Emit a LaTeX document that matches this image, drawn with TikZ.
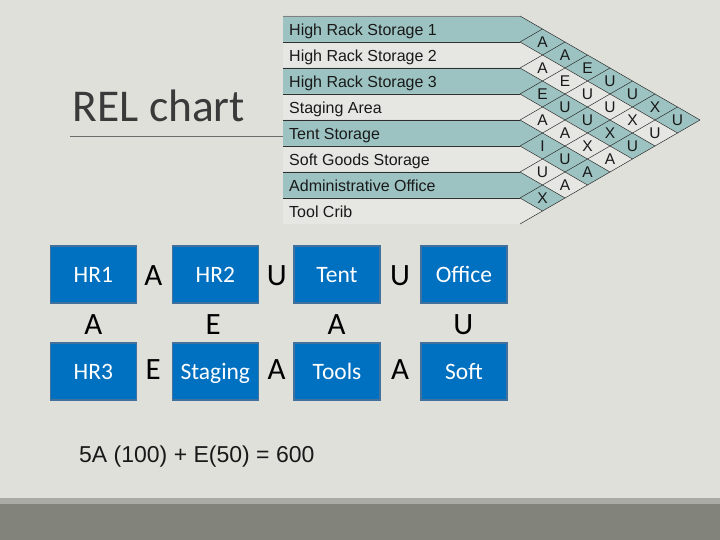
\documentclass[tikz,border=0pt]{standalone}
\usepackage{fontspec}
\setmainfont{Carlito}
\newfontfamily\arialf{Liberation Sans}
\definecolor{slidebg}{HTML}{E0E0DB}
\definecolor{bandlight}{HTML}{AAABA5}
\definecolor{banddark}{HTML}{82837B}
\definecolor{chartteal}{HTML}{9CC3C1}
\definecolor{chartlight}{HTML}{E6E6E3}
\definecolor{gridcol}{HTML}{2E2E2E}
\definecolor{boxblue}{HTML}{0070C0}
\definecolor{boxedge}{HTML}{41719C}
\definecolor{titlegray}{HTML}{3A3A3A}
\begin{document}
\begin{tikzpicture}[x=1pt,y=-1pt,
  gridline/.style={draw=gridcol, line width=0.5pt},
  rowlabel/.style={font=\arialf\fontsize{16}{19}\selectfont, text=black!90, inner sep=0pt, anchor=base west},
  cellletter/.style={font=\arialf\fontsize{15.5}{18}\selectfont, text=black!90, inner sep=0pt},
  relbox/.style={fill=boxblue, draw=boxedge, line width=1.5pt, minimum width=86pt, minimum height=57pt,
     inner sep=0pt, text=white, font=\fontsize{23.5}{27}\selectfont, text height=15pt, text depth=0pt},
  pairletter/.style={font=\fontsize{31}{36}\selectfont, text=black, inner sep=0pt},
  titletext/.style={font=\fontsize{45.5}{50}\selectfont, text=titlegray, inner sep=0pt, anchor=base west},
  formula/.style={font=\arialf\fontsize{23}{27}\selectfont, text=black!90, inner sep=0pt, anchor=base west}]
\useasboundingbox (0,0) rectangle (720,540);
\fill[slidebg] (0,0) rectangle (720,540);
\fill[bandlight] (0,498) rectangle (720,504);
\fill[banddark] (0,504) rectangle (720,540);

% title
\draw[draw=gray!85!black, line width=1pt] (70,136.7) -- (283,136.7);
\node[titletext] (title) at (72.5,121.5) {REL chart};

% REL chart bands
\foreach \i in {1,...,8} {
  \pgfmathsetmacro\a{16+26*(\i-1)}
  \pgfmathsetmacro\b{\a+26}
  \pgfmathsetmacro\xa{520+(9-\i)*22.5}
  \pgfmathsetmacro\ya{(\a+224)/2}
  \pgfmathsetmacro\xb{520+(8-\i)*22.5}
  \pgfmathsetmacro\yb{(\b+224)/2}
  \ifodd\i \def\bandcol{chartteal}\else \def\bandcol{chartlight}\fi
  \fill[\bandcol] (283,\a) -- (520,\a) -- (\xa,\ya) -- (\xb,\yb) -- (520,\b) -- (283,\b) -- cycle;
}
% grid lines
\draw[gridline, draw=gray] (283,16) -- (520,16);
\foreach \k in {1,...,7} \draw[gridline] (283,{16+26*\k}) -- (520,{16+26*\k});
\foreach \k in {0,...,7} \draw[gridline] (520,{16+26*\k}) -- ({520+(8-\k)*22.5},{(16+26*\k+224)/2});
\foreach \k in {1,...,8} \draw[gridline] (520,{16+26*\k}) -- ({520+\k*22.5},{(16+26*\k+16)/2});

% row labels
\foreach \nm [count=\i] in {High Rack Storage 1,High Rack Storage 2,High Rack Storage 3,Staging Area,Tent Storage,Soft Goods Storage,Administrative Office,Tool Crib}
  \node[rowlabel] (row\i) at (289,{36+26*(\i-1)}) {\nm};

% cell letters
\foreach \i/\lst in {1/{A,A,E,U,U,X,U},2/{A,E,U,U,X,U},3/{E,U,U,X,U},4/{A,A,X,A},5/{I,U,A},6/{U,A},7/{X}} {
  \foreach \c [count=\n] in \lst {
    \node[cellletter] (cell\i-\n) at ({520+22.5*\n},{3+13*(2*\i+\n)}) {\c};
  }
}

% boxes
\node[relbox] (hr1) at (93.3,274.5) {HR1};
\node[relbox] (hr2) at (215.3,274.5) {HR2};
\node[relbox] (tent) at (337,274.5) {Tent};
\node[relbox] (office) at (464,274.5) {Office};
\node[relbox] (hr3) at (93.3,371.7) {HR3};
\node[relbox] (staging) at (215.3,371.7) {Staging};
\node[relbox] (tools) at (337,371.7) {Tools};
\node[relbox] (soft) at (464,371.7) {Soft};

% relationship letters
\node[pairletter] (p1) at (153.3,276) {A};
\node[pairletter] (p2) at (276.7,276) {U};
\node[pairletter] (p3) at (400,276) {U};
\node[pairletter] (p4) at (153.3,370) {E};
\node[pairletter] (p5) at (276.7,370) {A};
\node[pairletter] (p6) at (400,370) {A};
\node[pairletter] (v1) at (93.3,325) {A};
\node[pairletter] (v2) at (213.3,325) {E};
\node[pairletter] (v3) at (336.7,325) {A};
\node[pairletter] (v4) at (463.3,325) {U};

% formula
\node[formula] (calc) at (79,462.7) {5A (100) + E(50) = 600};
\end{tikzpicture}
\end{document}
